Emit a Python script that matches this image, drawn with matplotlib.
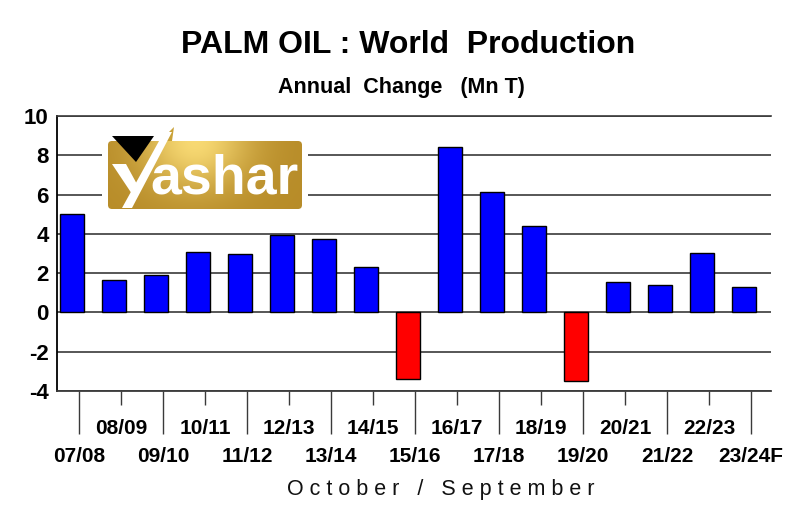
import matplotlib

matplotlib.use("Agg")
import matplotlib.pyplot as plt
import numpy as np
from matplotlib.patches import FancyBboxPatch, Polygon

plt.rcParams["font.family"] = ["Liberation Sans", "DejaVu Sans"]

SEASONS = ["07/08", "08/09", "09/10", "10/11", "11/12", "12/13", "13/14", "14/15", "15/16",
           "16/17", "17/18", "18/19", "19/20", "20/21", "21/22", "22/23", "23/24F"]
CHANGE = [5.0, 1.65, 1.9, 3.07, 2.97, 3.95, 3.72, 2.29, -3.38,
          8.4, 6.11, 4.4, -3.51, 1.54, 1.41, 3.05, 1.27]
YTICKS = [-4, -2, 0, 2, 4, 6, 8, 10]

GRID = "#3a3a3a"


def draw_logo(fig):
    # decorative "Yashar" badge, drawn in its own pixel-coordinate axes
    lx = fig.add_axes([102 / 800, 1 - 214 / 527, 206 / 800, 90 / 527])
    lx.set_xlim(0, 206)
    lx.set_ylim(90, 0)
    lx.axis("off")
    lx.add_patch(plt.Rectangle((0, 0), 206, 90, color="white", zorder=0))
    box = FancyBboxPatch((6, 17), 194, 68, boxstyle="round,pad=0,rounding_size=4",
                         facecolor="none", edgecolor="none", zorder=1)
    lx.add_patch(box)
    gx = np.linspace(0, 1, 200)
    gy = np.linspace(0, 1, 60)
    X, Y = np.meshgrid(gx, gy)
    glow = np.exp(-((X - 0.45) ** 2) / 0.08 - (Y ** 2) / 0.5)
    c0 = np.array([0.72, 0.55, 0.16])
    c1 = np.array([0.97, 0.85, 0.45])
    img = c0 + (c1 - c0) * glow[..., None]
    im = lx.imshow(img, extent=(6, 200, 85, 17), aspect="auto", zorder=1)
    im.set_clip_path(box)
    # spike at top
    lx.add_patch(Polygon([[58, 17], [72, 3], [70, 17]], closed=True,
                         facecolor="#c9a136", edgecolor="none", zorder=1))
    # Y: black triangle + white stroke
    lx.add_patch(Polygon([[10, 12], [52, 12], [34, 38]], closed=True,
                         facecolor="black", edgecolor="none", zorder=3))
    lx.add_patch(Polygon([[20, 84], [30, 84], [70, 8], [62, 8]], closed=True,
                         facecolor="white", edgecolor="none", zorder=3))
    lx.add_patch(Polygon([[10, 40], [24, 40], [36, 62], [30, 70]], closed=True,
                         facecolor="white", edgecolor="none", zorder=3))
    lx.text(122, 56, "ashar", color="white", fontsize=40, fontweight="bold",
            ha="center", va="center", zorder=4)


def main():
    fig = plt.figure(figsize=(8, 5.27), dpi=100)
    ax = fig.add_axes([57 / 800, 1 - 391 / 527, 714 / 800, 275 / 527])

    x = np.arange(len(SEASONS))
    colors = ["#0000ff" if v >= 0 else "#ff0000" for v in CHANGE]
    ax.bar(x, CHANGE, width=0.57, color=colors, edgecolor="black", linewidth=1.0, zorder=3)

    ax.set_xlim(-0.357, 16.64)
    ax.set_ylim(-4, 10)
    ax.set_yticks(YTICKS)
    ax.set_yticklabels([str(v) for v in YTICKS], fontsize=16, fontweight="bold")
    ax.tick_params(axis="y", length=0, pad=6)
    ax.yaxis.grid(True, color=GRID, lw=1.2, zorder=1)

    # staggered category labels: long ticks for the bottom row, short for the top row
    tpos = x + 7 / 42
    ax.set_xticks(tpos[::2])
    ax.set_xticklabels(SEASONS[::2], fontsize=15, fontweight="bold")
    ax.set_xticks(tpos[1::2], minor=True)
    ax.set_xticklabels(SEASONS[1::2], minor=True, fontsize=15, fontweight="bold")
    ax.tick_params(axis="x", which="major", length=31, width=1.0, color=GRID, pad=9)
    ax.tick_params(axis="x", which="minor", length=10, width=1.0, color=GRID, pad=10)

    ax.spines["right"].set_visible(False)
    ax.spines["top"].set_color(GRID)
    ax.spines["top"].set_linewidth(1.2)
    ax.spines["left"].set_color("black")
    ax.spines["left"].set_linewidth(1.3)
    ax.spines["bottom"].set_color(GRID)
    ax.spines["bottom"].set_linewidth(1.3)

    fig.text(408 / 800, 1 - 45 / 527, "PALM OIL : World  Production", fontsize=23,
             fontweight="bold", ha="center", va="center")
    fig.text(401 / 800, 1 - 87 / 527, "Annual  Change   (Mn T)", fontsize=15.5,
             fontweight="bold", ha="center", va="center")
    fig.text(441 / 800, 1 - 490 / 527, "O c t o b e r   /   S e p t e m b e r", fontsize=15.5,
             ha="center", va="center", color="#111111")

    draw_logo(fig)
    fig.savefig("out.png", dpi=100)


if __name__ == "__main__":
    main()
